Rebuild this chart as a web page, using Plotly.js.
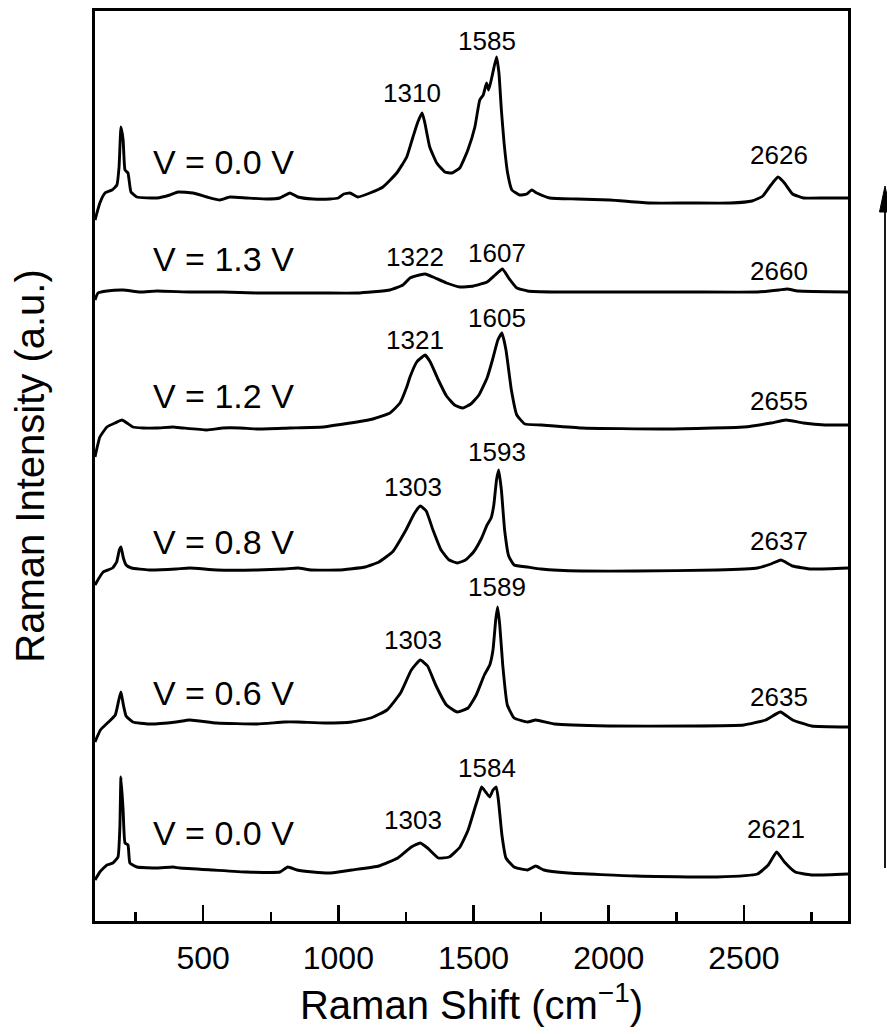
<!DOCTYPE html>
<html>
<head>
<meta charset="utf-8">
<script src="https://cdn.plot.ly/plotly-3.0.1.min.js"></script>
<style>
  html, body { margin: 0; padding: 0; background: #fff; }
  #chart { width: 887px; height: 1034px; }
</style>
</head>
<body>
<div id="chart"></div>
<script>
// Raman spectra recorded at successive bias voltages, stacked from the first
// measurement (bottom) to the last one after returning to 0.0 V (top).
// Raman shift in cm^-1, intensity in arbitrary units (already offset for stacking).

const shift_v00_start = [100,118,144,166,185,192,196,204,211,222,229,255,329,388,414,536,662,784,813,847,906,969,1000,1050,1150,1220,1270,1303,1330,1370,1410,1450,1480,1505,1520,1530,1545,1560,1572,1584,1592,1605,1620,1650,1700,1730,1760,1850,2100,2400,2550,2590,2621,2650,2690,2750,2885];
const int_v00_start   = [41,49,56,58,64,94,144,111,78,76,58,54,53,54,53,51,49,49,54,51,49,48,49,51,55,63,74,78,73,63,64,74,91,113,126,134,129,124,131,134,121,86,63,54,51,55,51,48,45,44,47,56,69,59,49,46,47];

const shift_v06 = [100,120,150,175,188,196,205,215,240,300,400,450,550,700,800,850,950,1050,1120,1180,1230,1270,1303,1330,1360,1400,1440,1480,1510,1540,1560,1572,1582,1589,1597,1608,1625,1650,1700,1730,1800,2000,2300,2500,2580,2635,2680,2750,2885];
const int_v06   = [179,191,199,206,221,229,216,205,199,197,199,201,198,197,199,199,198,199,203,211,228,251,261,255,236,216,209,213,226,246,256,271,301,314,296,256,216,203,199,201,197,195,195,196,201,209,201,195,194];

const shift_v08 = [100,130,165,180,190,196,205,215,235,300,400,450,550,700,800,850,900,1000,1100,1150,1200,1250,1280,1303,1325,1350,1380,1410,1440,1470,1500,1530,1550,1565,1575,1585,1593,1603,1615,1630,1650,1700,1750,1900,2100,2400,2550,2600,2637,2680,2750,2885];
const int_v08   = [336,349,353,359,371,374,363,356,353,351,352,353,351,351,352,353,351,351,354,359,369,391,407,415,410,391,371,361,358,361,369,383,396,403,416,441,451,431,391,365,356,354,352,350,350,351,353,357,361,355,352,353];

const shift_v12 = [100,118,144,174,200,218,240,277,329,388,425,514,573,636,699,821,943,1043,1069,1128,1191,1228,1253,1265,1290,1310,1321,1340,1370,1400,1430,1460,1490,1520,1550,1570,1590,1605,1620,1640,1660,1690,1750,1900,2200,2500,2600,2655,2720,2800,2885];
const int_v12   = [464,484,494,498,501,498,494,493,493,494,493,491,493,493,492,493,494,498,499,502,508,518,534,544,559,564,566,559,541,525,516,513,517,526,543,561,581,588,571,531,506,497,496,493,492,494,498,501,498,496,496];

const shift_v13 = [100,111,144,204,266,329,451,573,699,821,943,1069,1191,1239,1265,1300,1322,1350,1400,1450,1500,1550,1580,1607,1630,1660,1700,1800,2000,2300,2550,2630,2660,2700,2885];
const int_v13   = [621,628,630,631,629,630,629,629,628,628,628,628,631,636,643,646,647,644,638,634,635,639,646,652,643,633,630,629,629,629,629,631,632,630,629];

const shift_v00_end = [100,118,137,163,181,189,196,204,211,222,233,255,329,377,407,462,514,562,599,662,736,784,821,850,906,969,1000,1020,1043,1072,1117,1165,1216,1253,1276,1294,1310,1320,1338,1364,1394,1420,1449,1479,1505,1523,1536,1548,1556,1568,1585,1594,1603,1613,1626,1642,1671,1697,1715,1734,1782,1882,2004,2152,2300,2450,2530,2570,2600,2626,2650,2680,2720,2800,2885];
const int_v00_end   = [701,718,728,731,736,754,794,781,751,748,729,724,723,726,729,728,724,721,724,723,722,723,728,724,722,722,723,727,728,724,728,734,748,764,784,799,808,798,774,758,749,748,753,771,794,821,826,838,831,844,864,848,811,778,748,731,726,727,731,728,723,722,721,718,718,718,720,725,736,744,738,727,723,723,723];

// Bias voltage of each spectrum and its labelled peak positions (cm^-1)
const voltageLabels = ['V = 0.0 V', 'V = 0.6 V', 'V = 0.8 V', 'V = 1.2 V', 'V = 1.3 V', 'V = 0.0 V'];
const peaks_v00_start = [1303, 1584, 2621];
const peaks_v06       = [1303, 1589, 2635];
const peaks_v08       = [1303, 1593, 2637];
const peaks_v12       = [1321, 1605, 2655];
const peaks_v13       = [1322, 1607, 2660];
const peaks_v00_end   = [1310, 1585, 2626];

const spectra = [
  [shift_v00_start, int_v00_start, peaks_v00_start],
  [shift_v06, int_v06, peaks_v06],
  [shift_v08, int_v08, peaks_v08],
  [shift_v12, int_v12, peaks_v12],
  [shift_v13, int_v13, peaks_v13],
  [shift_v00_end, int_v00_end, peaks_v00_end]
];

// ---- placement of the text labels (axis units) ----
const voltageLabelX = 577;
const voltageLabelY = [88, 228, 379, 525, 662, 759];
// per spectrum: [x, y] of the D, G and 2D peak labels
const peakLabelPos = [
  [[1276, 101], [1549, 153], [2618, 92]],
  [[1276, 281], [1586, 334], [2629, 224]],
  [[1276, 434], [1586, 469], [2629, 380]],
  [[1283, 581], [1586, 603], [2629, 520]],
  [[1283, 664], [1586, 668], [2629, 650]],
  [[1272, 828], [1549, 880], [2629, 766]]
];

const FONT = 'Arial, "Liberation Sans", Helvetica, sans-serif';

const traces = spectra.map(([x, y]) => ({
  x: x, y: y, type: 'scatter', mode: 'lines',
  line: { color: '#000', width: 2.9, shape: 'spline', smoothing: 0.4 },
  hoverinfo: 'x+y', showlegend: false
}));

const annotations = [];
spectra.forEach(([, , peaks], i) => {
  annotations.push({
    x: voltageLabelX, y: voltageLabelY[i], xref: 'x', yref: 'y',
    text: voltageLabels[i], showarrow: false,
    font: { family: FONT, size: 34, color: '#000' },
    xanchor: 'center', yanchor: 'middle'
  });
  peaks.forEach((p, j) => {
    annotations.push({
      x: peakLabelPos[i][j][0], y: peakLabelPos[i][j][1], xref: 'x', yref: 'y',
      text: String(p), showarrow: false,
      font: { family: FONT, size: 26, color: '#000' },
      xanchor: 'center', yanchor: 'middle'
    });
  });
});

// plot-area geometry in pixels, used to place the sequence arrow at the right edge
const M = { l: 95, r: 39, t: 11, b: 113 };
const W = 887, H = 1034;
const pw = W - M.l - M.r, ph = H - M.t - M.b;
const px = (x) => (x - M.l) / pw;
const py = (y) => (H - M.b - y) / ph;

const shapes = [
  { type: 'line', xref: 'paper', yref: 'paper',
    x0: px(885), x1: px(885), y0: py(868), y1: py(205),
    line: { color: '#000', width: 1.8 } },
  { type: 'path', xref: 'paper', yref: 'paper',
    path: `M ${px(885)},${py(186)} L ${px(879.5)},${py(212)} L ${px(890.5)},${py(212)} Z`,
    fillcolor: '#000', line: { color: '#000', width: 1 } }
];

const layout = {
  width: W, height: H,
  margin: M,
  paper_bgcolor: '#fff', plot_bgcolor: '#fff',
  font: { family: FONT, color: '#000' },
  showlegend: false,
  xaxis: {
    range: [100, 2885],
    tick0: 0, dtick: 500,
    ticks: 'inside', ticklen: 16, tickwidth: 2.5, tickcolor: '#000',
    minor: { ticks: 'inside', ticklen: 9, tickwidth: 2.5, tickcolor: '#000', tick0: 0, dtick: 250 },
    tickfont: { family: FONT, size: 32, color: '#000' },
    ticklabelstandoff: 7,
    showline: true, linewidth: 3, linecolor: '#000', mirror: true,
    showgrid: false, zeroline: false,
    title: { text: 'Raman Shift (cm<sup>\u22121</sup>)', font: { family: FONT, size: 40, color: '#000' }, standoff: 16 }
  },
  yaxis: {
    range: [0, 910],
    showticklabels: false, ticks: '',
    showline: true, linewidth: 3, linecolor: '#000', mirror: true,
    showgrid: false, zeroline: false,
    title: { text: 'Raman Intensity (a.u.)', font: { family: FONT, size: 40, color: '#000' }, standoff: 36 }
  },
  annotations: annotations,
  shapes: shapes
};

Plotly.newPlot('chart', traces, layout, { displayModeBar: false, staticPlot: true });
</script>
</body>
</html>
